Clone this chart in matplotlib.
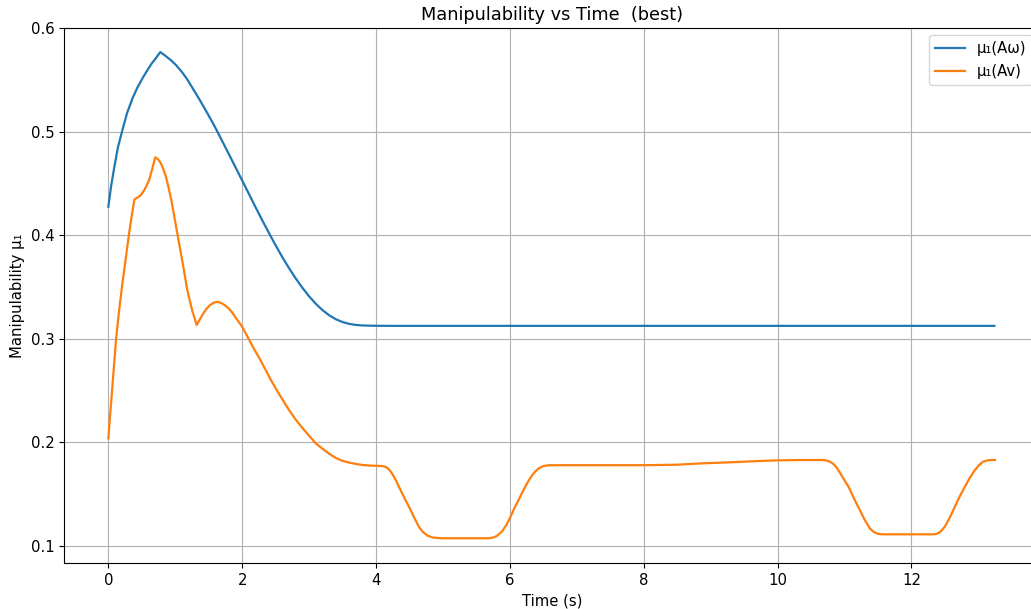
import matplotlib
matplotlib.use('Agg')
import matplotlib.pyplot as plt

plt.rcParams['font.size'] = 10.7

# mu1(A_omega) trace
t_w = [0, 0.04, 0.09, 0.14, 0.21, 0.28, 0.36, 0.43, 0.51, 0.58, 0.65, 0.70,
       0.776, 0.85, 0.93, 1.01, 1.1, 1.18, 1.26, 1.36, 1.46, 1.54, 1.62,
       1.71, 1.81, 1.9, 2.0, 2.1, 2.2, 2.3, 2.4, 2.5, 2.6, 2.7, 2.8, 2.9,
       3.0, 3.1, 3.2, 3.3, 3.4, 3.5, 3.6, 3.7, 3.8, 3.9, 4.0, 4.2, 13.24]
mu_w = [0.4275, 0.447, 0.466, 0.484, 0.5015, 0.518, 0.532, 0.542, 0.5515,
        0.559, 0.566, 0.570, 0.5768, 0.5733, 0.5692, 0.5643, 0.5575, 0.5503,
        0.5418, 0.5312, 0.5200, 0.5108, 0.5012, 0.4898, 0.4771, 0.4656,
        0.4528, 0.4400, 0.4270, 0.4144, 0.4021, 0.3902, 0.3788, 0.3682,
        0.3583, 0.3492, 0.341, 0.3338, 0.3277, 0.3227, 0.3189, 0.3162,
        0.3144, 0.3134, 0.3129, 0.3127, 0.3126, 0.3125, 0.3125]

# mu1(A_v) trace
t_v = [0, 0.057, 0.114, 0.16, 0.21, 0.26, 0.31, 0.35, 0.39, 0.44, 0.49,
       0.55, 0.61, 0.66, 0.70, 0.74, 0.78, 0.82, 0.86, 0.9, 0.95, 1.03, 1.1,
       1.18, 1.25, 1.32, 1.36, 1.41, 1.46, 1.51, 1.57, 1.63, 1.69, 1.75,
       1.81, 1.86, 1.93, 2.0, 2.08, 2.17, 2.26, 2.35, 2.44, 2.53, 2.62, 2.7,
       2.8, 2.9, 3.0, 3.1, 3.2, 3.3, 3.4, 3.5, 3.6, 3.7, 3.8, 3.9, 4.0, 4.1,
       4.15, 4.2, 4.25, 4.3, 4.37, 4.44, 4.5, 4.57, 4.64, 4.7, 4.77, 4.85,
       4.95, 5.0, 5.69, 5.75, 5.8, 5.88, 5.95, 6.01, 6.07, 6.12, 6.18, 6.23,
       6.28, 6.33, 6.38, 6.43, 6.5, 6.58, 6.7, 8.0, 8.5, 8.87, 9.37, 9.7,
       10.01, 10.3, 10.66, 10.72, 10.78, 10.83, 10.88, 10.94, 11.0, 11.06,
       11.12, 11.18, 11.23, 11.3, 11.38, 11.44, 11.5, 11.56, 12.33, 12.38,
       12.43, 12.5, 12.57, 12.65, 12.72, 12.8, 12.87, 12.95, 13.01, 13.07,
       13.13, 13.19, 13.25]
mu_v = [0.204, 0.252, 0.2988, 0.327, 0.3536, 0.378, 0.4018, 0.419, 0.4347,
        0.4365, 0.439, 0.445, 0.4533, 0.465, 0.4752, 0.4735, 0.470, 0.464,
        0.4565, 0.446, 0.431, 0.4018, 0.377, 0.347, 0.328, 0.3133, 0.318,
        0.3235, 0.3285, 0.332, 0.3348, 0.3358, 0.3345, 0.332, 0.3285,
        0.3246, 0.318, 0.3117, 0.302, 0.291, 0.281, 0.27, 0.259, 0.249,
        0.2395, 0.2313, 0.222, 0.214, 0.2065, 0.199, 0.194, 0.189, 0.185,
        0.1822, 0.1805, 0.1792, 0.1782, 0.1777, 0.1775, 0.1772, 0.1762,
        0.1735, 0.169, 0.163, 0.1535, 0.1444, 0.137, 0.1275, 0.1186, 0.1135,
        0.110, 0.1082, 0.1076, 0.1075, 0.1075, 0.1082, 0.1095, 0.1138,
        0.1205, 0.1283, 0.137, 0.143, 0.151, 0.1573, 0.163, 0.168, 0.172,
        0.175, 0.1772, 0.178, 0.178, 0.178, 0.1785, 0.1798, 0.181, 0.182,
        0.1827, 0.183, 0.183, 0.1828, 0.1815, 0.1795, 0.176, 0.170, 0.1635,
        0.1573, 0.149, 0.141, 0.1348, 0.1255, 0.117, 0.1135, 0.1118, 0.1113,
        0.1113, 0.1118, 0.1135, 0.1187, 0.127, 0.138, 0.1475, 0.1573, 0.1655,
        0.1734, 0.178, 0.1814, 0.1826, 0.183, 0.183]

fig = plt.figure(figsize=(10.31, 6.09), dpi=100)
ax = fig.add_axes([0.0621, 0.0755, 0.946, 0.8785])

ax.plot(t_w, mu_w, color="#1f77b4", linewidth=1.6, label="μ₁(Aω)")
ax.plot(t_v, mu_v, color="#ff7f0e", linewidth=1.6, label="μ₁(Av)")

ax.set_ylim(0.0836, 0.6)
ax.set_xticks([0, 2, 4, 6, 8, 10, 12])
ax.set_xlabel("Time (s)")
ax.set_ylabel("Manipulability μ₁")
ax.set_title("Manipulability vs Time  (best)", fontsize=12.8)
ax.grid(True, color="#b0b0b0", linewidth=0.8)
ax.legend(loc="upper right")
ax.spines["right"].set_visible(False)

fig.savefig("out.png", dpi=100)
